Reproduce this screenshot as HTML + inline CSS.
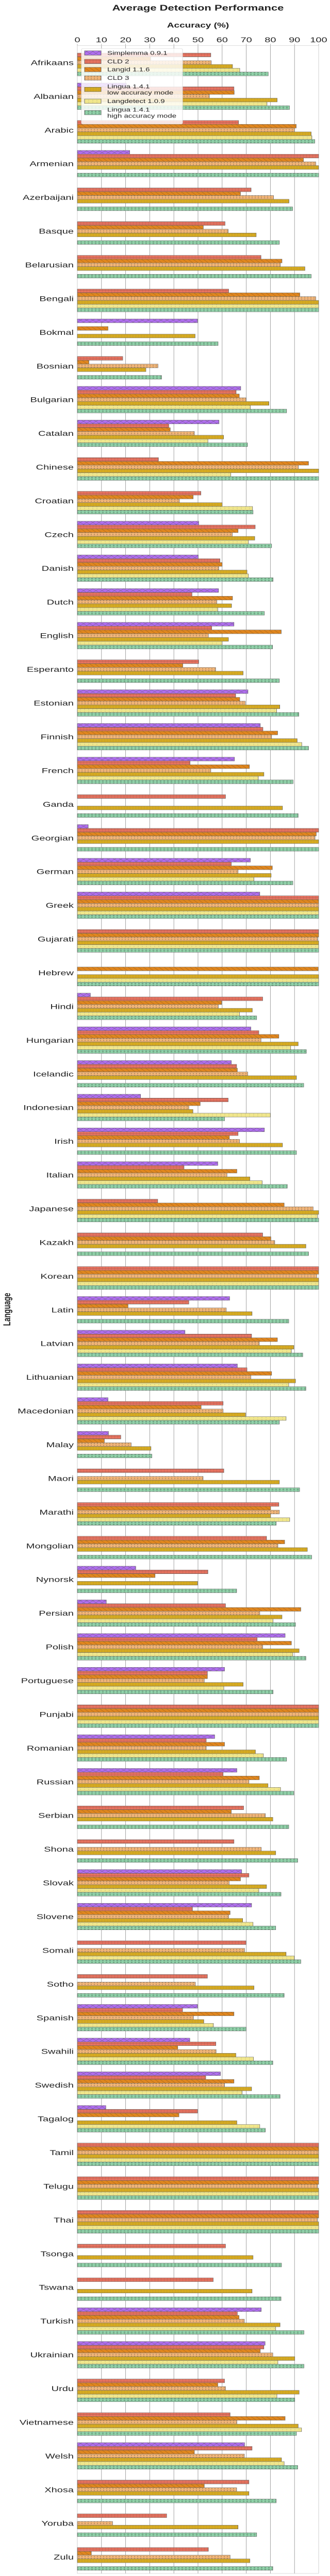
<!DOCTYPE html>
<html><head><meta charset="utf-8">
<meta name="viewport" content="width=640">
<style>
html,body{margin:0;padding:0;background:#fff;width:100%;height:100%;overflow:hidden;}
svg{display:block;position:absolute;left:0;top:0;width:100vw;height:100vh;font-family:"Liberation Sans",Arial,sans-serif;}
</style></head>
<body>
<svg id="chart" viewBox="0 0 640 7000" preserveAspectRatio="none" xmlns="http://www.w3.org/2000/svg">
<defs>
<pattern id="p0" patternUnits="userSpaceOnUse" width="12" height="10"><rect width="12" height="10" fill="#b06ef0"/><path d="M0 0L12 10M12 0L0 10" stroke="#555" stroke-width="0.5"/></pattern>
<pattern id="p1" patternUnits="userSpaceOnUse" width="6" height="6"><rect width="6" height="6" fill="#e87461"/><path d="M0 0V6M0 3H6" stroke="#8a4a40" stroke-width="0.5"/></pattern>
<pattern id="p2" patternUnits="userSpaceOnUse" width="10" height="10"><rect width="10" height="10" fill="#e0861e"/><path d="M0 0L10 10" stroke="#6b4a20" stroke-width="0.5"/></pattern>
<pattern id="p3" patternUnits="userSpaceOnUse" width="6" height="5"><rect width="6" height="5" fill="#f0b478"/><circle cx="3" cy="2.5" r="0.8" fill="none" stroke="#6b5a40" stroke-width="0.5"/></pattern>
<pattern id="p4" patternUnits="userSpaceOnUse" width="3" height="3"><rect width="3" height="3" fill="#dcae1e"/><circle cx="1.5" cy="1.5" r="0.5" fill="#555"/></pattern>
<pattern id="p5" patternUnits="userSpaceOnUse" width="8" height="5"><rect width="8" height="5" fill="#f0e68c"/><circle cx="4" cy="2.5" r="0.5" fill="#555"/></pattern>
<pattern id="p6" patternUnits="userSpaceOnUse" width="7" height="5"><rect width="7" height="5" fill="#8fd0a8"/><circle cx="3.5" cy="2.5" r="1.1" fill="none" stroke="#4a6a55" stroke-width="0.6"/></pattern>
</defs>
<g id="grid"></g>
<g id="bars"></g>
<g id="labels"></g>
<g id="legend"></g>
</svg>
<script>
const languages = ["Afrikaans","Albanian","Arabic","Armenian","Azerbaijani","Basque","Belarusian","Bengali","Bokmal","Bosnian","Bulgarian","Catalan","Chinese","Croatian","Czech","Danish","Dutch","English","Esperanto","Estonian","Finnish","French","Ganda","Georgian","German","Greek","Gujarati","Hebrew","Hindi","Hungarian","Icelandic","Indonesian","Irish","Italian","Japanese","Kazakh","Korean","Latin","Latvian","Lithuanian","Macedonian","Malay","Maori","Marathi","Mongolian","Nynorsk","Persian","Polish","Portuguese","Punjabi","Romanian","Russian","Serbian","Shona","Slovak","Slovene","Somali","Sotho","Spanish","Swahili","Swedish","Tagalog","Tamil","Telugu","Thai","Tsonga","Tswana","Turkish","Ukrainian","Urdu","Vietnamese","Welsh","Xhosa","Yoruba","Zulu"];
const seriesNames = ["Simplemma 0.9.1","CLD 2","Langid 1.1.6","CLD 3","Lingua 1.4.1|low accuracy mode","Langdetect 1.0.9","Lingua 1.4.1|high accuracy mode"];
const simplemma = [0,20.3,0,21.7,0,0,0,0,49.8,0, 67.7,58.7,0,0,50.3,50.1,58.5,64.9,0,70.7, 75.8,65.1,0,4.5,71.7,75.6,0,0,5.4,71.9, 63.8,26.2,77.5,58.2,0,0,0,63.1,44.6,66.3, 12.7,12.9,0,0,0,24.2,12,86.1,61,0, 56.9,66.1,0,0,68.1,72.2,0,0,49.8,46.6, 59.3,11.8,0,0,0,0,0,76.2,77.8,0, 0,69.3,0,0,0];
const cld2 = [55.3,64.9,66.8,100,72,61.2,76.1,62.7,0,18.8, 65.8,37.9,33.6,51.2,73.7,59.1,47.5,55.7,50.3,65.6, 76.9,46.7,61.4,100,63.8,100,100,0,76.8,75.2, 66,62.5,66.6,44.2,33.3,76.8,100,46.2,72.2,70.3, 60.4,18,60.7,83.5,78.4,54.1,61.4,74.5,53.9,100, 53.4,60.4,68.9,64.9,71.1,47.7,69.9,53.9,43.6,57.4, 53.2,49.8,100,100,100,61.4,56.3,66.3,77.3,61, 63.3,72.4,71.1,37,54.3];
const langid = [30.4,65,90.7,93.7,67.6,52.2,84.8,92.2,12.7,4.8, 67.1,38.5,95.8,48,66.6,60,64.3,84.5,43.7,67.3, 83,71.3,0,99,80.8,100,100,99.8,59.8,83.5, 66.3,50.9,63,66.1,85.7,80.2,100,21,82.9,80.5, 51.3,11.2,0,80.1,85.9,32.2,92.6,88.7,53.9,100, 61,75.4,63.8,0,67.6,63.3,0,0,64.9,41.6, 64.9,42.1,100,100,100,0,0,67,75.8,58.2, 86.1,48.5,52.6,0,5.8];
const cld3 = [55.5,54.7,90,98.8,81.3,62.5,84.1,98.8,0,33.4, 69.9,48.5,91.6,42.3,64.2,58.6,57.8,54.3,57.3,69.6, 80.5,55.3,0,98.5,66.6,100,99.6,0,58.4,76.1, 70.6,46.2,67.2,62,97.7,81.8,99.2,61.7,75.4,71.9, 60.4,22.3,52.1,83.7,83.1,0,75.6,76.8,52.6,100, 53.4,71.1,77.9,76.2,62.9,62.7,69.3,48.9,48.1,57.5, 61,0,100,99.5,99.5,0,0,69.2,81,61.4, 66.1,69.2,66,14.6,63.3];
const linguaLow = [64.3,82.8,96.9,100,87.7,74.1,94.3,100,48.8,28.4, 79.4,60.6,100,60,73.5,70.3,63.9,62.6,68.7,83.9, 91.1,77.3,85,100,80.3,100,100,100,72.5,91.5, 90.8,47.9,85,71.5,100,94.7,100,72.4,89.7,90.4, 69.7,30.5,83.7,80.1,95.3,49.8,84.8,91.9,68.7,100, 73.8,79,81,82.2,78.4,68.5,86.5,73.2,52.4,65.7, 72.2,66.1,100,100,100,72.8,72.4,84,90.1,91.9, 91.5,84.6,71.1,66.6,71.5];
const langdetect = [67.3,78.6,97.2,0,0,0,0,100,0,0, 71.7,54.1,63.6,72.6,70.9,70.9,58.2,60,0,82.6, 93,75,0,0,73.2,100,100,100,67.2,88.4, 0,80,0,76.6,99.5,0,100,0,88.7,87.6, 86.5,0,0,88,0,0,81.1,89.3,60.7,100, 77.1,84.2,0,0,75.2,72.8,89.9,0,56.4,73, 68.3,75.6,100,100,100,0,0,82.2,83.1,82.7, 92.9,85.7,0,0,0];
const linguaHigh = [79.1,87.9,98.4,100,89.2,83.7,96.9,100,58.3,34.9, 86.7,70.5,100,72.8,80.5,81.1,77.5,80.9,83.7,91.8, 95.8,89.4,91.5,100,89.3,100,100,100,74.3,94.9, 93.8,61,90.8,87,100,95.8,100,87.6,93.4,94.7, 83.7,30.9,92.1,82.4,97.1,66,90.4,94.7,81.1,100, 86.7,89.7,87.6,91.3,84.4,82.2,92.6,85.7,69.9,81, 84,77.9,100,100,100,84.6,84.4,93.9,93.9,90.1, 90.8,91.3,82.4,74.3,81];
const xTicks = [0,10,20,30,40,50,60,70,80,90,100];

const NS = "http://www.w3.org/2000/svg";
const X0 = 150, X1 = 618, TOP = 124, BOTTOM = 6993;
const FIRST = 170, STEP = 91.6, BARH = 10.3;
function xScale(v){ return X0 + (X1 - X0) * v / 100; }
function yCenter(i){ return FIRST + i * STEP; }
function mk(tag, attrs, parent){
  const e = document.createElementNS(NS, tag);
  for (const k in attrs) e.setAttribute(k, attrs[k]);
  parent.appendChild(e); return e;
}
const svg = document.getElementById('chart');
const gGrid = document.getElementById('grid');
const gBars = document.getElementById('bars');
const gLab = document.getElementById('labels');
const gLeg = document.getElementById('legend');

let t = mk('text', {x: 384, y: 29, 'text-anchor': 'middle', 'font-size': 22, 'font-weight': 'bold', fill: '#222'}, svg);
t.textContent = 'Average Detection Performance';


t = mk('text', {x: 384, y: 75, 'text-anchor': 'middle', 'font-size': 19, 'font-weight': 'bold', fill: '#222'}, svg);
t.textContent = 'Accuracy (%)';


t = mk('text', {x: 20, y: 3558, 'text-anchor': 'middle', 'font-size': 19, 'font-weight': 'bold', fill: '#222', transform: 'rotate(-90 20 3558)'}, svg);
t.textContent = 'Language';



let fr = mk('rect', {x: X0, y: TOP, width: X1 - X0, height: BOTTOM - TOP, fill: 'none', stroke: '#d0d0d0', 'stroke-width': 1}, gGrid);



xTicks.forEach(v => {
  const x = xScale(v);
  if (v > 0 && v < 100) {
    const ln = mk('line', {x1: x, x2: x, y1: TOP, y2: BOTTOM, stroke: '#999', 'stroke-width': 0.9}, gGrid);
    
    
  }
  mk('line', {x1: x, x2: x, y1: TOP - 5, y2: TOP, stroke: '#aaa', 'stroke-width': 0.8}, gGrid);
  const tl = mk('text', {x: x, y: 115, 'text-anchor': 'middle', 'font-size': 20, fill: '#222'}, gGrid);
  tl.textContent = v;
  
  
});

const series = [simplemma, cld2, langid, cld3, linguaLow, langdetect, linguaHigh];
const seriesKeys = ['simplemma','cld2','langid','cld3','lingua-low','langdetect','lingua-high'];
languages.forEach((lang, i) => {
  const c = yCenter(i);
  const lab = mk('text', {x: 143, y: c + 7, 'text-anchor': 'end', 'font-size': 20, fill: '#222'}, gLab);
  lab.textContent = lang;
  
  
  series.forEach((arr, k) => {
    const v = arr[i];
    if (!v) return;
    const r = mk('rect', {x: X0, y: c - 3.5 * BARH + k * BARH, width: xScale(v) - X0, height: BARH, fill: 'url(#p' + k + ')', stroke: '#666', 'stroke-width': 0.8}, gBars);
    
    
  });
});

const lg = mk('rect', {x: 158, y: 132, width: 196, height: 205, rx: 3, fill: '#fff', 'fill-opacity': 0.82, stroke: '#ddd'}, gLeg);


const legY = [144, 167, 189, 212, 243, 275, 306];
seriesNames.forEach((name, k) => {
  const y = legY[k];
  const g = mk('g', {}, gLeg);
  
  
  mk('rect', {x: 164, y: y - 6, width: 32, height: 12, fill: 'url(#p' + k + ')', stroke: '#555', 'stroke-width': 0.8}, g);
  const parts = name.split('|');
  if (parts.length === 1) {
    const tx = mk('text', {x: 208, y: y + 5, 'font-size': 15, fill: '#222'}, g);
    tx.textContent = parts[0];
  } else {
    const a = mk('text', {x: 208, y: y - 3, 'font-size': 15, fill: '#222'}, g);
    a.textContent = parts[0];
    const b = mk('text', {x: 208, y: y + 14, 'font-size': 15, fill: '#222'}, g);
    b.textContent = parts[1];
  }
});
</script>
</body></html>
